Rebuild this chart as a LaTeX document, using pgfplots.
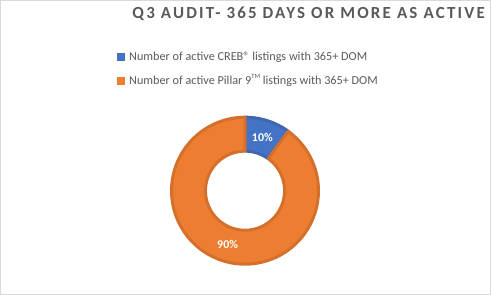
\documentclass[border=0pt]{standalone}
\usepackage{fontspec}
\setmainfont{Carlito}
\usepackage{pgfplots}
\usepackage{pgfplotstable}
\pgfplotsset{compat=1.18}
\definecolor{cblue}{HTML}{4472C4}
\definecolor{cblueD}{HTML}{3D67B1}
\definecolor{corange}{HTML}{ED7D31}
\definecolor{corangeD}{HTML}{D5702C}
\definecolor{txtgray}{HTML}{595959}
\definecolor{framegray}{HTML}{D9D9D9}
\newcommand{\tm}{\raisebox{0.42em}{\fontsize{6.5}{6.5}\selectfont TM}}

\pgfplotstableread{
label share
CREB 10
Pillar9 90
}\donutdata

\begin{document}
\begin{tikzpicture}
\pgfplotstablegetelem{0}{share}\of\donutdata \let\shareA\pgfplotsretval
\pgfplotstablegetelem{1}{share}\of\donutdata \let\shareB\pgfplotsretval
\pgfmathsetmacro{\aStart}{90}
\pgfmathsetmacro{\aEnd}{90-3.6*\shareA}
\pgfmathsetmacro{\bEnd}{\aEnd-3.6*\shareB}
\pgfmathsetmacro{\aMid}{(\aStart+\aEnd)/2}
\pgfmathsetmacro{\bMid}{(\aEnd+\bEnd)/2}
\def\Ro{0.98}
\def\Ri{0.527}

\draw[framegray, line width=1bp] (0.5bp,0.5bp) rectangle (490.5bp,294.5bp);
\useasboundingbox (0,0) rectangle (491bp,295bp);

\node[anchor=base east, inner sep=0pt, font=\bfseries\fontsize{17}{19}\selectfont\addfontfeature{LetterSpace=13}, text=txtgray] at (485bp,276bp) {Q3 AUDIT- 365 DAYS OR MORE AS ACTIVE};

\begin{axis}[
  scale only axis, width=150bp, height=150bp,
  xmin=-1, xmax=1, ymin=-1, ymax=1,
  hide axis, clip=false,
  at={(245bp,104.3bp)}, anchor=center,
  legend cell align=left,
  legend style={at={(-0.353,1.44)}, anchor=north west, draw=none, fill=none,
    font=\fontsize{12.25}{14}\selectfont, text=txtgray, row sep=9bp, inner sep=0pt,
    column sep=2.5bp},
]
% slice 1 (CREB)
\addplot[forget plot, fill=cblue, draw=cblueD, line width=3bp, line join=round,
  samples at={0,1,...,120}]
  ({(x<=60 ? \Ro : \Ri)*cos(x<=60 ? \aStart+(\aEnd-\aStart)*x/60 : \aEnd+(\aStart-\aEnd)*(x-61)/59)},
   {(x<=60 ? \Ro : \Ri)*sin(x<=60 ? \aStart+(\aEnd-\aStart)*x/60 : \aEnd+(\aStart-\aEnd)*(x-61)/59)}) -- cycle;
% slice 2 (Pillar 9)
\addplot[forget plot, fill=corange, draw=corangeD, line width=3bp, line join=round,
  samples at={0,1,...,240}]
  ({(x<=120 ? \Ro : \Ri)*cos(x<=120 ? \aEnd+(\bEnd-\aEnd)*x/120 : \bEnd+(\aEnd-\bEnd)*(x-121)/119)},
   {(x<=120 ? \Ro : \Ri)*sin(x<=120 ? \aEnd+(\bEnd-\aEnd)*x/120 : \bEnd+(\aEnd-\bEnd)*(x-121)/119)}) -- cycle;

\node[text=white, font=\bfseries\fontsize{12}{14}\selectfont] at (axis cs:{0.75*cos(\aMid)},{0.75*sin(\aMid)}) {\pgfmathprintnumber[assume math mode=true]{\shareA}\%};
\node[text=white, font=\bfseries\fontsize{12}{14}\selectfont] at (axis cs:{0.75*cos(\bMid)},{0.75*sin(\bMid)}) {\pgfmathprintnumber[assume math mode=true]{\shareB}\%};

\addlegendimage{legend image code/.code={\fill[cblue] (0bp,-3.5bp) rectangle (7bp,3.5bp);}}
\addlegendentry{Number of active CREB® listings with 365+ DOM}
\addlegendimage{legend image code/.code={\fill[corange] (0bp,-3.5bp) rectangle (7bp,3.5bp);}}
\addlegendentry{Number of active Pillar 9\tm{} listings with 365+ DOM}
\end{axis}
\end{tikzpicture}
\end{document}
